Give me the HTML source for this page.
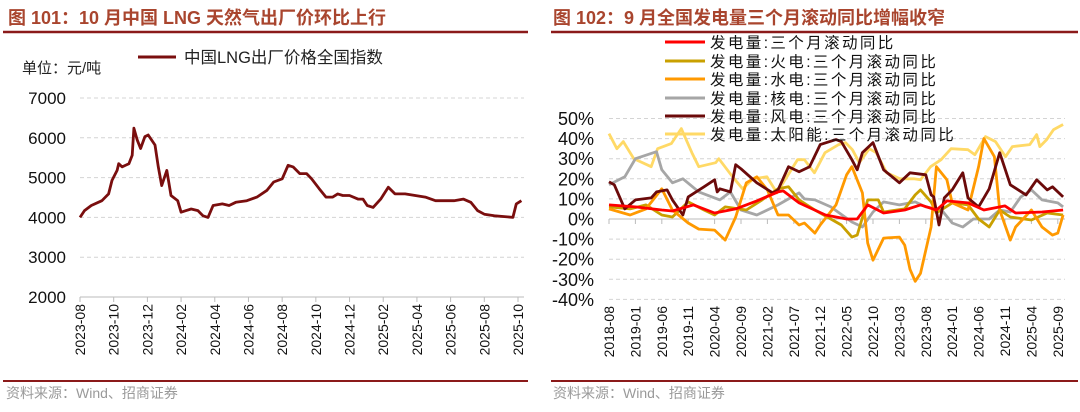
<!DOCTYPE html>
<html><head><meta charset="utf-8"><style>
html,body{margin:0;padding:0;background:#fff;}
svg{display:block;font-family:"Liberation Sans","Noto Sans CJK SC",sans-serif;}
</style></head><body>
<svg id="s" width="1080" height="412" viewBox="0 0 1080 412" xmlns="http://www.w3.org/2000/svg">
<text x="8" y="24" font-size="18" font-weight="bold" fill="#A9452E">图 101：10 月中国 LNG 天然气出厂价环比上行</text>
<text x="553" y="24" font-size="18" font-weight="bold" fill="#A9452E">图 102：9 月全国发电量三个月滚动同比增幅收窄</text>
<line x1="3" y1="32" x2="528" y2="32" stroke="#8B1A1A" stroke-width="2.5"/>
<line x1="551" y1="32" x2="1078" y2="32" stroke="#8B1A1A" stroke-width="2.5"/>
<line x1="3" y1="381" x2="528" y2="381" stroke="#8B1A1A" stroke-width="2"/>
<line x1="551" y1="381" x2="1078" y2="381" stroke="#8B1A1A" stroke-width="2"/>
<text x="6" y="398" font-size="14" fill="#9a9a9a">资料来源：Wind、招商证券</text>
<text x="553" y="398" font-size="14" fill="#9a9a9a">资料来源：Wind、招商证券</text>
<text x="22" y="73" font-size="15" fill="#222">单位：元/吨</text>
<line x1="138" y1="57" x2="176" y2="57" stroke="#7A0E0E" stroke-width="3"/>
<text x="184" y="63" font-size="16.5" fill="#222">中国LNG出厂价格全国指数</text>
<g id="L"></g><g id="R"></g>
</svg>
<script>
// ---- Left chart data ----
const lngMonths=[0,0.27,0.67,1.3,1.7,1.9,2.2,2.3,2.5,2.9,3.1,3.2,3.4,3.6,3.85,4.05,4.45,4.65,4.85,5.15,5.4,5.8,6.0,6.3,6.6,7.0,7.3,7.6,7.9,8.45,8.85,9.25,9.9,10.5,11.1,11.5,12.0,12.35,12.65,13.05,13.45,13.75,14.2,14.6,15.0,15.3,15.6,16.0,16.5,16.8,17.05,17.4,17.85,18.3,18.7,19.3,19.9,20.5,21.1,22.2,22.75,23.2,23.6,24.0,24.6,25.2,25.7,25.9,26.2];
const lngValues=[4000,4170,4300,4420,4590,4930,5180,5350,5270,5350,5560,6240,5940,5730,6030,6070,5820,5270,4800,5180,4550,4420,4130,4170,4210,4170,4040,4000,4300,4340,4300,4380,4420,4510,4680,4890,4970,5310,5270,5100,5100,4970,4720,4510,4510,4590,4550,4550,4460,4460,4300,4250,4460,4760,4590,4590,4550,4510,4420,4420,4460,4380,4170,4080,4040,4020,4000,4340,4420];
const lngTickLabels=["2023-08","2023-10","2023-12","2024-02","2024-04","2024-06","2024-08","2024-10","2024-12","2025-02","2025-04","2025-06","2025-08","2025-10"];
const lngYTicks=[2000,3000,4000,5000,6000,7000];

// ---- Right chart data ----
const genTickLabels=["2018-08","2019-01","2019-06","2019-11","2020-04","2020-09","2021-02","2021-07","2021-12","2022-05","2022-10","2023-03","2023-08","2024-01","2024-06","2024-11","2025-04","2025-09"];
const genYTicks=[-40,-30,-20,-10,0,10,20,30,40,50];
const seriesNames=["发电量:三个月滚动同比","发电量:火电:三个月滚动同比","发电量:水电:三个月滚动同比","发电量:核电:三个月滚动同比","发电量:风电:三个月滚动同比","发电量:太阳能:三个月滚动同比"];
const totalMonths=[0,5,10,12,16,20,24,28,32,33,36,41,45,47,49,52,56,59,62,64,68,71,75,77,82,86];
const totalValues=[7,6,4.5,4,7,3,5,9,13.5,14,8,2,0,0,7,3,4.5,7,4.5,9,8,4.5,6.5,3,3.5,4.5];
const thermalMonths=[0,4,7,10,12,15,18,20,22,26,29,32,34,36,39,42,44,46,47,49,51,52,56,58,59,61,62,65,68,70,72,74,76,80,83,86];
const thermalValues=[6,5,7,2,1,8.5,4.5,2,6,4.5,9.5,15,16,9.5,4.5,0,-3,-9,-8,9.5,9.5,3.5,5,12,14.5,8.5,3,8,7,0,-4,4.5,1,-0.5,3,2];
const hydroMonths=[0,4,7,10,12,15,17,20,22,24,26,28,30,32,34,36,37,39,40,43,45,46,48,49,50,52,55,56,57,58,59,61,62,64,65,68,70,71,73,74,76,77,80,82,84,85,86];
const hydroValues=[5,2,5,15,4.5,-2,-5,-5.5,-10.5,1,18,21,14.5,2,2,-3,-2,-7,-3,7,22,26,13,-12,-20.5,-9.5,-9,-13,-25,-31,-27,-4,26,19.5,8,4.5,26,40,31,4.5,-10.5,-4,4.5,-4,-8,-7,2];
const nuclearMonths=[0,3,5,9,10,12,14,17,21,23,25,28,32,36,37,39,42,46,48,50,52,55,58,60,63,65,67,69,72,74,76,78,80,82,85,86];
const nuclearValues=[17,21,30,33.5,24.5,18,20,13.5,9.5,13.5,4.5,2,7,13,10,9.5,6,-1.5,-4,3.5,8.5,7,8.5,6,4.5,-2,-4,0,0,4.5,3.5,11,14.5,9.5,8,6];
const windMonths=[0,1,3,5,8,9,11,12,14,15,18,20,20.5,21,23,24,25,28,31,32,34,36,38,40,43,44,46,47,48,50,52,55,57,60,61,61.5,62.5,63.5,65,67,68,70,72,74,76,79,81,83,84,86];
const windValues=[18.5,17,5,9.5,10.5,13.5,14.5,9.5,2,11,16,19.5,13.5,15,13.5,27,25,18,13,14.5,26,23.5,26,37,39.5,38.5,29.5,24.5,33,38,24.5,18,23,22,12,11,-3,10.5,14.5,23,10.5,6,15,33,17,12,19.5,14.5,16,11];
const solarMonths=[0,1.5,2.7,4.7,8,9.2,11.8,13.7,15.7,17,20.2,20.8,23.4,25.3,27.3,29.9,31.8,35.7,37,38.9,40.9,43.5,44.8,46.1,47.4,49.3,50.6,52.6,55.1,57.7,59,60.9,62.9,64.8,68,69.3,71.3,73.2,75.1,76.4,79.7,81,81.6,82.9,84.2,86];
const solarValues=[42.5,35,38.5,30,26,35,37.5,45,33,26,28,30,21,15,20,21,13,29.5,29.5,23,33,37,38,34.5,28,35,33,23,20,20,19.5,26,29.5,35,34.5,32,41,38.5,31,36,37,42,36,39.5,44.5,47];

const NS="http://www.w3.org/2000/svg";
function mk(parent,tag,attrs){const e=document.createElementNS(NS,tag);for(const k in attrs)e.setAttribute(k,attrs[k]);parent.appendChild(e);return e;}

// Left axes
const Lx=m=>80+m*(438/26);
const Ly=v=>297-(v-2000)*(199/5000);
const L=document.getElementById('L');
lngYTicks.forEach(v=>{
  if(v>2000){const g=mk(L,'line',{x1:80,x2:524,y1:Ly(v),y2:Ly(v),stroke:'#d4d4d4','stroke-dasharray':'4,3'});
  
  }
  const t=mk(L,'text',{x:66,y:Ly(v)+6,'font-size':17,'text-anchor':'end',fill:'#111'});t.textContent=v;
  
  
});
const lax=mk(L,'line',{x1:80,x2:524,y1:297,y2:297,stroke:'#bbb'});


lngTickLabels.forEach((s,i)=>{
  const x=Lx(i*2);
  const tk=mk(L,'line',{x1:x,x2:x,y1:297,y2:302,stroke:'#bbb'});
  
  
  const t=mk(L,'text',{x:0,y:0,'font-size':14,'text-anchor':'end',fill:'#111',transform:`translate(${x+5},304) rotate(-90)`});t.textContent=s;
  
  
});
const lp=mk(L,'path',{d:lngMonths.map((m,i)=>(i?'L':'M')+Lx(m).toFixed(1)+','+Ly(lngValues[i]).toFixed(1)).join(''),fill:'none',stroke:'#7A0E0E','stroke-width':2.8,'stroke-linejoin':'round'});



// Right axes
const Rx=m=>609+m*5.28;
const Ry=v=>219-v*2.01;
const R=document.getElementById('R');
genYTicks.forEach(v=>{
  const g=mk(R,'line',{x1:609,x2:1065,y1:Ry(v),y2:Ry(v),stroke:'#d4d4d4','stroke-dasharray':'4,3'});
  
  
  const t=mk(R,'text',{x:594,y:Ry(v)+6.5,'font-size':18,'text-anchor':'end',fill:'#111'});t.textContent=v+'%';
  
  
});
const rax=mk(R,'line',{x1:609,x2:1065,y1:219,y2:219,stroke:'#bbb'});


genTickLabels.forEach((s,i)=>{
  const x=Rx(i*5);
  const tk=mk(R,'line',{x1:x,x2:x,y1:219,y2:224,stroke:'#bbb'});
  
  
  const t=mk(R,'text',{x:0,y:0,'font-size':14,'text-anchor':'end',fill:'#111',transform:`translate(${x+5},306) rotate(-90)`});t.textContent=s;
  
  
});
const series=[[totalMonths,totalValues,'#FF0000'],[thermalMonths,thermalValues,'#C9A000'],[hydroMonths,hydroValues,'#FF9900'],[nuclearMonths,nuclearValues,'#A6A6A6'],[windMonths,windValues,'#6B0A0A'],[solarMonths,solarValues,'#FFD966']];
const drawOrder=[5,3,1,2,4,0];
drawOrder.forEach(k=>{
  const [ms,vs,c]=series[k];
  const p=mk(R,'path',{d:ms.map((m,i)=>(i?'L':'M')+Rx(m).toFixed(1)+','+Ry(vs[i]).toFixed(1)).join(''),fill:'none',stroke:c,'stroke-width':2.8,'stroke-linejoin':'round'});
  
  
});
const legY=[42,61,79,98,116,134];
seriesNames.forEach((n,k)=>{
  const l=mk(R,'line',{x1:665,x2:705,y1:legY[k],y2:legY[k],stroke:series[k][2],'stroke-width':3});
  
  
  const t=mk(R,'text',{x:710,y:legY[k]+6,'font-size':15.5,fill:'#111','letter-spacing':'2.4'});t.textContent=n;
  
  
});
</script>
</body></html>
